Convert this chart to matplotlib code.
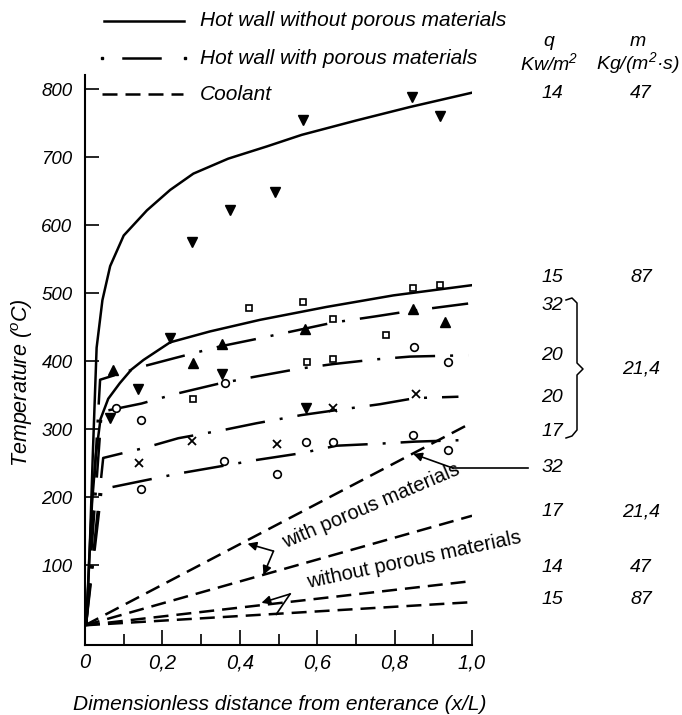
import matplotlib
matplotlib.use('Agg')
import matplotlib.pyplot as plt
from matplotlib.lines import Line2D

plt.rcParams['font.family'] = ['Liberation Sans', 'DejaVu Sans']
plt.rcParams['font.style'] = 'italic'
plt.rcParams['mathtext.default'] = 'regular'

W, H = 682, 715

# hot wall without porous materials (solid)
hw14_x = [0.004, 0.012, 0.02, 0.03, 0.045, 0.065, 0.1, 0.16, 0.22, 0.28, 0.37, 0.47, 0.56, 0.7, 0.84, 1.0]
hw14_t = [15, 120, 260, 420, 490, 540, 585, 622, 652, 676, 698, 716, 733, 754, 774, 795]
hw15_x = [0.004, 0.01, 0.018, 0.028, 0.04, 0.06, 0.09, 0.12, 0.151, 0.22, 0.323, 0.452, 0.624, 0.797, 1.0]
hw15_t = [15, 100, 190, 262, 315, 345, 368, 388, 402, 428, 444, 461, 480, 497, 512]

# hot wall with porous materials (dash-dot)
p32_x = [0.003, 0.039, 0.146, 0.233, 0.349, 0.435, 0.551, 0.641, 0.749, 0.84, 0.99]
p32_t = [15, 373, 392, 405, 422, 432, 446, 457, 466, 474, 485]
p20a_x = [0.003, 0.043, 0.146, 0.233, 0.344, 0.435, 0.551, 0.641, 0.753, 0.84, 0.99]
p20a_t = [15, 326, 338, 352, 367, 377, 389, 396, 403, 407, 409]
p20b_x = [0.003, 0.047, 0.155, 0.241, 0.357, 0.443, 0.559, 0.646, 0.762, 0.853, 0.965]
p20b_t = [15, 258, 273, 287, 299, 309, 321, 328, 337, 346, 348]
p17_x = [0.003, 0.043, 0.146, 0.241, 0.353, 0.443, 0.559, 0.65, 0.762, 0.853, 0.965]
p17_t = [15, 212, 224, 235, 246, 255, 265, 276, 279, 282, 284]

# coolant (dashed)
cool_x = [0.0, 1.0]
cool32_t = [12, 310]
cool17_t = [12, 173]
cool14_t = [12, 77]
cool15_t = [12, 46]

# measured points
tri_dn_x = [0.276, 0.375, 0.49, 0.564, 0.844, 0.917, 0.065, 0.136, 0.22, 0.353, 0.57]
tri_dn_t = [576, 623, 649, 755, 788, 761, 316, 360, 435, 382, 332]
tri_up_x = [0.073, 0.28, 0.355, 0.568, 0.848, 0.93]
tri_up_t = [387, 398, 426, 447, 477, 458]
sq_x = [0.424, 0.564, 0.848, 0.917, 0.641, 0.779, 0.573, 0.641, 0.28]
sq_t = [478, 488, 508, 512, 462, 439, 399, 404, 344]
circ_x = [0.08, 0.145, 0.363, 0.851, 0.937, 0.571, 0.641, 0.848, 0.939, 0.359, 0.497, 0.145]
circ_t = [332, 314, 368, 421, 399, 282, 281, 292, 270, 254, 235, 213]
cross_x = [0.14, 0.277, 0.497, 0.64, 0.855]
cross_t = [251, 283, 279, 331, 352]

x_ticks = [0, 0.2, 0.4, 0.6, 0.8, 1.0]
x_labels = ['0', '0,2', '0,4', '0,6', '0,8', '1,0']
y_ticks = [100, 200, 300, 400, 500, 600, 700, 800]

# right-hand columns: (q, m, y pixel)
right_rows = [('14', '47', 94), ('15', '87', 278), ('32', '', 305), ('20', '', 356),
              ('20', '', 397), ('17', '', 432), ('32', '', 467), ('17', '21,4', 512),
              ('14', '47', 567), ('15', '87', 600)]


def fx(px):
    return px / W


def fy(py):
    return 1 - py / H


fig = plt.figure(figsize=(W / 100, H / 100), dpi=100)
ax = fig.add_axes([fx(85), fy(645), 387 / W, (645 - 75) / H])

lw = 1.8
dashdot = (0, (16, 6, 1.2, 6))
dashed = (0, (6, 3.2))

ax.plot(hw14_x, hw14_t, color='black', lw=lw)
ax.plot(hw15_x, hw15_t, color='black', lw=lw)
for xs, ts in [(p32_x, p32_t), (p20a_x, p20a_t), (p20b_x, p20b_t), (p17_x, p17_t)]:
    ax.plot(xs, ts, color='black', lw=lw, linestyle=dashdot, dash_capstyle='butt')
for ts in [cool32_t, cool17_t, cool14_t, cool15_t]:
    ax.plot(cool_x, ts, color='black', lw=lw, linestyle=dashed, dash_capstyle='butt')

ax.plot(tri_dn_x, tri_dn_t, 'v', color='black', ms=7, ls='none')
ax.plot(tri_up_x, tri_up_t, '^', color='black', ms=7, ls='none')
ax.plot(sq_x, sq_t, 's', mfc='white', mec='black', mew=1.2, ms=5, ls='none')
ax.plot(circ_x, circ_t, 'o', mfc='white', mec='black', mew=1.2, ms=5.5, ls='none')
ax.plot(cross_x, cross_t, 'x', color='black', mew=1.3, ms=6, ls='none')

ax.set_xlim(0, 1.0)
ax.set_ylim(-17, 821)
ax.set_xticks(x_ticks)
ax.set_xticklabels(x_labels)
ax.set_xticks([0.1, 0.3, 0.5, 0.7, 0.9], minor=True)
ax.set_yticks(y_ticks)
ax.tick_params(axis='x', which='major', direction='in', length=11, width=1.2, labelsize=14.5, pad=6)
ax.tick_params(axis='x', which='minor', direction='in', length=8, width=1.2)
ax.tick_params(axis='y', direction='in', length=10, width=1.2, labelsize=13.5, pad=9)
for s in ['top', 'right']:
    ax.spines[s].set_visible(False)
for s in ['left', 'bottom']:
    ax.spines[s].set_linewidth(1.5)

# annotations inside the plot
ax.text(0.739, 187, 'with porous materials', fontsize=14.5, style='normal', rotation=23,
        rotation_mode='anchor', ha='center', va='center')
ax.text(0.85, 108, 'without porous materials', fontsize=14.5, style='normal', rotation=12,
        rotation_mode='anchor', ha='center', va='center')
arrow = dict(arrowstyle='-|>', lw=1.2, color='black', mutation_scale=13, shrinkA=0, shrinkB=0)
ax.annotate('', xy=(0.420, 132), xytext=(0.487, 121), arrowprops=arrow)
ax.annotate('', xy=(0.461, 86), xytext=(0.487, 121), arrowprops=arrow)
ax.annotate('', xy=(0.456, 45), xytext=(0.53, 58), arrowprops=arrow)
ax.plot([0.53, 0.494], [58, 28], color='black', lw=1.2)
ax.plot([1.145, 0.951], [243, 243], color='black', lw=1.2, clip_on=False)
ax.annotate('', xy=(0.848, 264), xytext=(0.951, 243), arrowprops=arrow, annotation_clip=False)

# legend drawn by hand
fig.add_artist(Line2D([fx(104), fx(184)], [fy(21), fy(21)], color='black', lw=lw))
fig.add_artist(Line2D([fx(123), fx(160)], [fy(58), fy(58)], color='black', lw=lw))
fig.add_artist(Line2D([fx(102), fx(185)], [fy(58), fy(58)], color='black', lw=0,
                      marker='s', ms=2, markevery=[0, 1]))
fig.add_artist(Line2D([fx(102), fx(183)], [fy(94), fy(94)], color='black', lw=lw,
                      linestyle=dashed, dash_capstyle='butt'))
leg_texts = ['Hot wall without porous materials', 'Hot wall with porous materials', 'Coolant']
for txt, py in zip(leg_texts, [21, 58, 94]):
    fig.text(fx(200), fy(py), txt, fontsize=15, va='center', ha='left')

# column headers and values at the right
fig.text(fx(549), fy(42), 'q', fontsize=14, ha='center', va='center')
fig.text(fx(549), fy(63), 'Kw/m$^2$', fontsize=14, ha='center', va='center')
fig.text(fx(638), fy(42), 'm', fontsize=14, ha='center', va='center')
fig.text(fx(638), fy(63), 'Kg/(m$^2$\u00b7s)', fontsize=14, ha='center', va='center')
for q, m, py in right_rows:
    fig.text(fx(552), fy(py), q, fontsize=14, ha='center', va='center')
    if m:
        fig.text(fx(641), fy(py), m, fontsize=14, ha='center', va='center')
fig.text(fx(641), fy(369), '21,4', fontsize=14, ha='center', va='center')

# curly bracket
bx = [566, 572, 577, 577, 583, 577, 577, 572, 566]
by = [300, 298, 303, 363, 369, 375, 430, 436, 438]
fig.add_artist(Line2D([fx(v) for v in bx], [fy(v) for v in by], color='black', lw=1.1))

fig.text(fx(22), fy(383), 'Temperature ($^o$C)', fontsize=15.5, rotation=90, ha='center', va='center')
fig.text(fx(280), fy(705), 'Dimensionless distance from enterance (x/L)', fontsize=15,
         ha='center', va='center')

fig.savefig('out.png', dpi=100)
